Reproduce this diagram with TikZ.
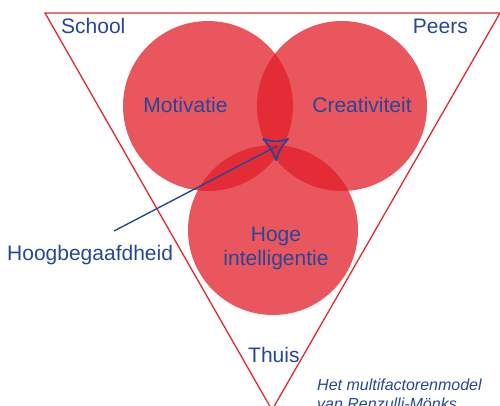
\documentclass[tikz,border=0pt]{standalone}
\usepackage{fontspec}
\setmainfont{Liberation Sans}
\definecolor{txtblue}{RGB}{40,70,152}
\definecolor{circred}{RGB}{225,30,40}
\definecolor{trired}{RGB}{228,40,45}
\begin{document}
\begin{tikzpicture}[x=1pt,y=-1pt,
  bigtext/.style={font=\fontsize{21}{24}\selectfont, text=txtblue, inner sep=0pt},
  smalltext/.style={font=\fontsize{16}{19}\selectfont\itshape, text=txtblue, inner sep=0pt},
  venn/.style={circle, fill=circred, fill opacity=0.75, draw=none, inner sep=0pt, minimum size=170pt},
  pointer/.style={draw=txtblue, line width=1.4pt}]
\useasboundingbox (0,0) rectangle (500,406);
% triangle
\coordinate (tl) at (45,13);
\coordinate (tr) at (500,13);
\coordinate (ap) at (272,410);
\draw[trired, line width=1.3pt] (tl) -- (tr) -- (ap) -- cycle;
% circles
\node[venn] (c1) at (208,106) {};
\node[venn] (c2) at (342,106) {};
\node[venn] (c3) at (273,230) {};
% labels
\node[bigtext, anchor=base west] (school) at (61,34) {School};
\node[bigtext, anchor=base east] (peers) at (468,34) {Peers};
\node[bigtext, anchor=base] (motivatie) at (185.5,113) {Motivatie};
\node[bigtext, anchor=base] (creativiteit) at (362,113) {Creativiteit};
\node[bigtext, anchor=base] (hoge) at (276,241) {Hoge};
\node[bigtext, anchor=base] (intel) at (276,265) {intelligentie};
\node[bigtext, anchor=base west] (thuis) at (248,362) {Thuis};
\node[bigtext, anchor=base west] (hb) at (7,260) {Hoogbegaafdheid};
\node[smalltext, anchor=base west] (model1) at (317,390) {Het multifactorenmodel};
\node[smalltext, anchor=base west] (model2) at (317,409) {van Renzulli-Mönks};
% core outline
\coordinate (k1) at (263,139);
\coordinate (k2) at (288,139);
\coordinate (k3) at (276,160);
\draw[pointer, line width=1.8pt, line join=round] (k1) to[bend right=18] (k2) to[bend right=12] (k3) to[bend right=12] (k1);
% pointer
\coordinate (ps) at (114,231);
\coordinate (pe) at (277,146);
\draw[pointer] (ps) -- (pe);
\end{tikzpicture}
\end{document}
